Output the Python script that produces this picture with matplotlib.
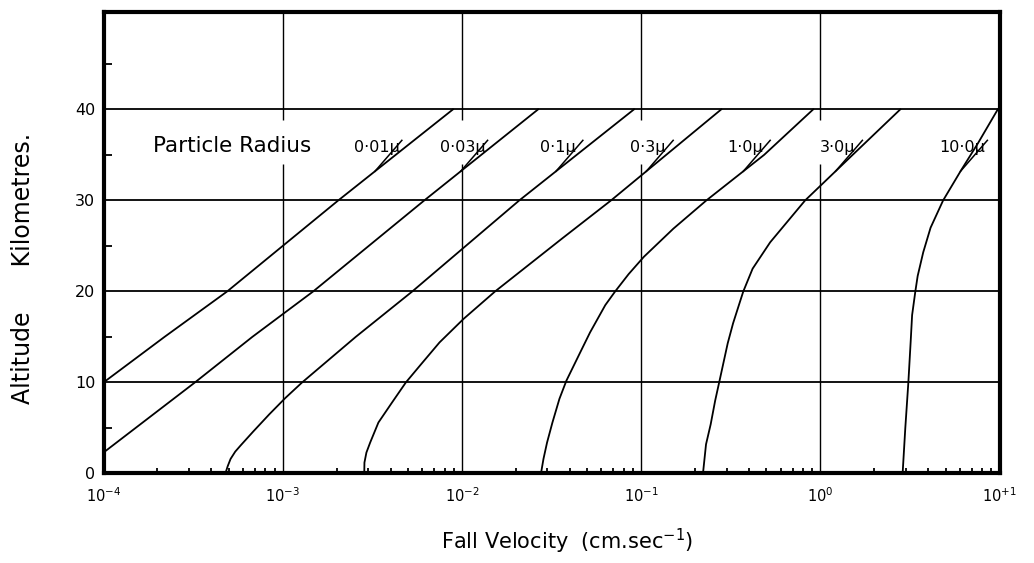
#!/usr/bin/env python3
# Fall velocity of small particles against altitude, one curve per particle radius

import numpy as np
import matplotlib
matplotlib.use("Agg")
from matplotlib import pyplot as plt
from matplotlib.ticker import FixedLocator, NullFormatter

# particle radii (microns) labelled on each curve
radiusLabels = ["0·01µ", "0·03µ", "0·1µ", "0·3µ", "1·0µ", "3·0µ", "10·0µ"]

# altitude (km) and log10 fall velocity (cm/sec) along each curve
alt_r001 = [10, 15, 20, 30, 40]
logv_r001 = [-4.00, -3.66, -3.31, -2.69, -2.05]

alt_r003 = [2.3, 10, 15, 20, 30, 40]
logv_r003 = [-4.00, -3.49, -3.17, -2.83, -2.21, -1.575]

alt_r01 = [0, 0.8, 1.6, 2.4, 3.1, 4.6, 6.5, 8.3, 10, 15, 20, 30, 40]
logv_r01 = [-3.320, -3.307, -3.291, -3.265, -3.234, -3.165, -3.075, -2.985, -2.892, -2.593,
            -2.277, -1.68, -1.04]

alt_r03 = [0, 1.2, 2.3, 3.4, 5.6, 7.8, 10, 12, 14.4, 17, 20, 25.8, 30, 40]
logv_r03 = [-2.545, -2.544, -2.533, -2.512, -2.466, -2.39, -2.313, -2.228, -2.125, -1.99,
            -1.815, -1.442, -1.168, -0.553]

alt_r1 = [0, 1.6, 3.4, 5.6, 8.2, 10.2, 13.3, 15.5, 18.5, 20, 21.9, 23.8, 26.9, 30, 35, 40]
logv_r1 = [-1.559, -1.545, -1.525, -1.495, -1.456, -1.417, -1.340, -1.285, -1.200, -1.145,
           -1.07, -0.985, -0.82, -0.636, -0.314, -0.040]

alt_r3 = [0, 3.2, 5.4, 8.0, 10.6, 14.3, 16.5, 18.9, 20, 22.5, 25.4, 30, 35, 40]
logv_r3 = [-0.655, -0.638, -0.612, -0.587, -0.558, -0.517, -0.487, -0.448, -0.430, -0.378,
           -0.280, -0.085, 0.18, 0.446]

alt_r10 = [0, 5, 10, 14.5, 17.4, 20, 21.7, 24.3, 27, 30, 33.3, 36.3, 40]
logv_r10 = [0.459, 0.474, 0.491, 0.504, 0.512, 0.530, 0.543, 0.574, 0.615, 0.685, 0.785,
            0.88, 0.99]

altCurves = [alt_r001, alt_r003, alt_r01, alt_r03, alt_r1, alt_r3, alt_r10]
logvCurves = [logv_r001, logv_r003, logv_r01, logv_r03, logv_r1, logv_r3, logv_r10]

xTickValues = [1e-4, 1e-3, 1e-2, 1e-1, 1e0, 1e1]
xTickLabels = ["$10^{-4}$", "$10^{-3}$", "$10^{-2}$", "$10^{-1}$", "$10^{0}$", "$10^{+1}$"]
yTickValues = [0, 10, 20, 30, 40]
yMinorValues = [5, 15, 25, 35, 45]

yTop = 50.7

fig = plt.figure(figsize=(10.34, 5.63), dpi=100)
ax = fig.add_axes([0.1001, 0.159, 0.8666, 0.8197])
ax.set_xscale("log")
ax.set_xlim(xTickValues[0], xTickValues[-1])
ax.set_ylim(0, yTop)

# ruled grid: horizontal lines across, decade lines broken where the labels sit
for yv in yTickValues[1:]:
    ax.axhline(yv, color="black", lw=1.3, zorder=1)
for xv in xTickValues[1:-1]:
    ax.vlines(xv, 0, 34.0, color="black", lw=1.0, zorder=1)
    ax.vlines(xv, 38.8, yTop, color="black", lw=1.0, zorder=1)

for alts, logv in zip(altCurves, logvCurves):
    ax.plot(10 ** np.array(logv), alts, color="black", lw=1.3, zorder=3,
            solid_joinstyle="round")

ax.text(10 ** -3.283, 36.0, "Particle Radius", fontsize=15.5, ha="center", va="center")

# radius labels with a short leader crossing each curve
for label, alts, logv in zip(radiusLabels, altCurves, logvCurves):
    lvFoot = np.interp(33.2, alts, logv)
    ax.text(10 ** (lvFoot + 0.01), 35.8, label, fontsize=11.5, ha="center", va="center",
            zorder=4)
    ax.plot([10 ** lvFoot, 10 ** (lvFoot + 0.15)], [33.2, 36.6], color="black", lw=1.1, zorder=5)

ax.xaxis.set_major_locator(FixedLocator(xTickValues))
ax.set_xticklabels(xTickLabels)
minorX = [m * 10.0 ** d for d in range(-4, 1) for m in range(2, 10)]
ax.xaxis.set_minor_locator(FixedLocator(minorX))
ax.xaxis.set_minor_formatter(NullFormatter())
ax.set_yticks(yTickValues)
ax.yaxis.set_minor_locator(FixedLocator(yMinorValues))

ax.tick_params(which="major", length=0)
ax.tick_params(axis="x", which="major", pad=9, labelsize=10.5)
ax.tick_params(axis="y", which="major", pad=6, labelsize=11.5)
ax.tick_params(axis="x", which="minor", direction="in", length=3.5, width=1.3)
ax.tick_params(axis="y", which="minor", direction="in", length=6, width=1.3)

for side in ["left", "right", "top", "bottom"]:
    ax.spines[side].set_linewidth(3.0)
    ax.spines[side].set_zorder(6)

ax.set_xlabel("Fall Velocity  (cm.sec$^{-1}$)", fontsize=15)
ax.xaxis.set_label_coords(0.517, -0.115)
ax.set_ylabel("Altitude      Kilometres.", fontsize=17)
ax.yaxis.set_label_coords(-0.077, 0.445)

fig.savefig("out.png", dpi=100)
plt.close(fig)
